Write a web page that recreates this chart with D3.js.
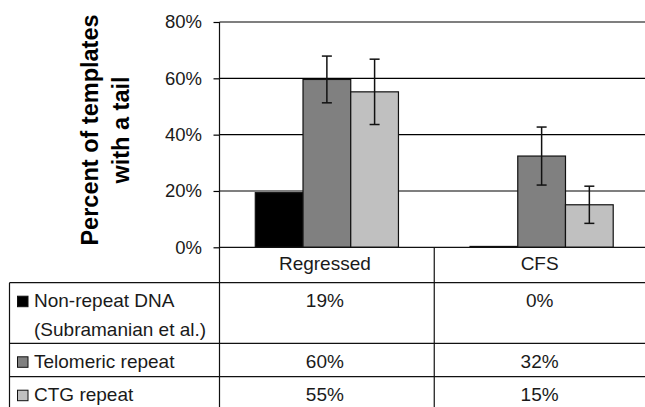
<!DOCTYPE html>
<html>
<head>
<meta charset="utf-8">
<script src="https://cdn.jsdelivr.net/npm/d3@7"></script>
<style>
  body { margin: 0; background: #fff; }
  svg { display: block; font-family: "Liberation Sans", Arial, sans-serif; }
</style>
</head>
<body>
<div id="chart"></div>
<script>
// ---- data ----
const categories = ['Regressed', 'CFS']
const seriesNames = ['Non-repeat DNA', 'Telomeric repeat', 'CTG repeat']
const seriesLabels = [['Non-repeat DNA', '(Subramanian et al.)'], ['Telomeric repeat'], ['CTG repeat']]
const seriesColors = ['#000000', '#808080', '#c0c0c0']
const regressedValues = [19.4, 59.6, 55.2]
const cfsValues = [0.3, 32.4, 15.1]
const regressedErrors = [0, 8.3, 11.6]
const cfsErrors = [0, 10.3, 6.6]
const yTicks = [0, 20, 40, 60, 80]
const yTitle = ['Percent of templates', 'with a tail']

const values = [regressedValues, cfsValues]
const errors = [regressedErrors, cfsErrors]

// ========= SVG ========= \\
const width = 645, height = 407
const svg = d3.select('#chart').append('svg').attr('width', width).attr('height', height)

const plotLeft = 219.5, plotRight = 649, plotTop = 22, plotBottom = 247.3
const tableLeft = 9.5
const rowLines = [282.7, 343.3, 376.7]   // bottoms of header / rows

const x = d3.scaleBand().domain(categories).range([plotLeft, plotRight]).paddingInner(0).paddingOuter(0)
const xInner = d3.scaleBand().domain(seriesNames).range([0, x.bandwidth()]).paddingInner(0).paddingOuter(0.75)
const y = d3.scaleLinear().domain([0, 80]).range([plotBottom, plotTop])

// ========= GRID + AXIS ========= \\
const yAxis = d3.axisLeft(y).tickValues(yTicks).tickSize(6).tickFormat(d => d + '%')
const axisG = svg.append('g').attr('transform', `translate(${plotLeft},0)`).call(yAxis)
axisG.select('.domain').remove()
axisG.selectAll('line').attr('stroke', '#000').attr('stroke-width', 1.2)
axisG.selectAll('text')
    .attr('x', -17.5)
    .attr('font-size', 18.5)
    .attr('font-family', '"Liberation Sans", Arial, sans-serif')
    .attr('fill', '#1a1a1a')

svg.append('g').selectAll('line.grid')
    .data(yTicks.filter(t => t > 0))
    .join('line')
    .attr('class', 'grid')
    .attr('x1', plotLeft).attr('x2', width)
    .attr('y1', d => y(d)).attr('y2', d => y(d))
    .attr('stroke', '#000').attr('stroke-width', 1.2)

// ========= BARS ========= \\
const groups = svg.append('g').selectAll('g.group')
    .data(categories)
    .join('g')
    .attr('class', 'group')
    .attr('transform', d => `translate(${x(d)},0)`)

groups.selectAll('rect')
    .data((c, ci) => values[ci].map((v, i) => ({ v, i, e: errors[ci][i] })))
    .join('rect')
    .attr('x', d => xInner(seriesNames[d.i]))
    .attr('y', d => y(d.v))
    .attr('width', xInner.bandwidth())
    .attr('height', d => plotBottom - y(d.v))
    .attr('fill', d => seriesColors[d.i])
    .attr('stroke', '#111').attr('stroke-width', 1.2)

// error bars
const errG = groups.selectAll('g.err')
    .data((c, ci) => values[ci].map((v, i) => ({ v, i, e: errors[ci][i] })).filter(d => d.e > 0))
    .join('g')
    .attr('class', 'err')
    .attr('transform', d => `translate(${xInner(seriesNames[d.i]) + xInner.bandwidth() / 2},0)`)

errG.append('line')
    .attr('y1', d => y(d.v + d.e)).attr('y2', d => y(d.v - d.e))
errG.append('line')
    .attr('x1', -5).attr('x2', 5)
    .attr('y1', d => y(d.v + d.e)).attr('y2', d => y(d.v + d.e))
errG.append('line')
    .attr('x1', -5).attr('x2', 5)
    .attr('y1', d => y(d.v - d.e)).attr('y2', d => y(d.v - d.e))
errG.selectAll('line').attr('stroke', '#111').attr('stroke-width', 1.5)

// ========= Y TITLE ========= \\
const title = svg.append('text')
    .attr('transform', `translate(106,130) rotate(-90)`)
    .attr('text-anchor', 'middle')
    .attr('font-weight', 'bold')
    .attr('font-size', 23.5)
    .attr('fill', '#000')
title.selectAll('tspan')
    .data(yTitle)
    .join('tspan')
    .attr('x', 0)
    .attr('y', (d, i) => i * 31 - 8)
    .text(d => d)

// ========= DATA TABLE ========= \\
const table = svg.append('g').attr('stroke', '#111').attr('stroke-width', 1.2)
// x axis line / top of table
table.append('line').attr('x1', plotLeft).attr('x2', width).attr('y1', plotBottom).attr('y2', plotBottom)
// value axis line runs through table
table.append('line').attr('x1', plotLeft).attr('x2', plotLeft).attr('y1', plotTop).attr('y2', height)
// category divider
table.append('line').attr('x1', x('CFS')).attr('x2', x('CFS')).attr('y1', plotBottom).attr('y2', height)
// left border
table.append('line').attr('x1', tableLeft).attr('x2', tableLeft).attr('y1', rowLines[0]).attr('y2', height)
table.selectAll('line.row')
    .data(rowLines)
    .join('line')
    .attr('class', 'row')
    .attr('x1', tableLeft).attr('x2', width)
    .attr('y1', d => d).attr('y2', d => d)

const tableText = svg.append('g')
    .attr('font-size', 19)
    .attr('fill', '#1a1a1a')

// header
tableText.selectAll('text.cat')
    .data(categories)
    .join('text')
    .attr('class', 'cat')
    .attr('x', d => x(d) + x.bandwidth() / 2 - 2)
    .attr('y', plotBottom + 23)
    .attr('text-anchor', 'middle')
    .text(d => d)

// series rows
seriesNames.forEach((s, i) => {
    const base = rowLines[i] + 24.5

    svg.append('rect')
        .attr('x', 17.5).attr('y', base - 11)
        .attr('width', 10.5).attr('height', 10.5)
        .attr('fill', seriesColors[i])
        .attr('stroke', '#111').attr('stroke-width', 1)

    seriesLabels[i].forEach((line, li) => {
        tableText.append('text')
            .attr('x', 34)
            .attr('y', base + li * 29)
            .text(line)
    })

    categories.forEach((c, ci) => {
        tableText.append('text')
            .attr('x', x(c) + x.bandwidth() / 2 - 2)
            .attr('y', base)
            .attr('text-anchor', 'middle')
            .text(Math.round(values[ci][i]) + '%')
    })
})
</script>
</body>
</html>
